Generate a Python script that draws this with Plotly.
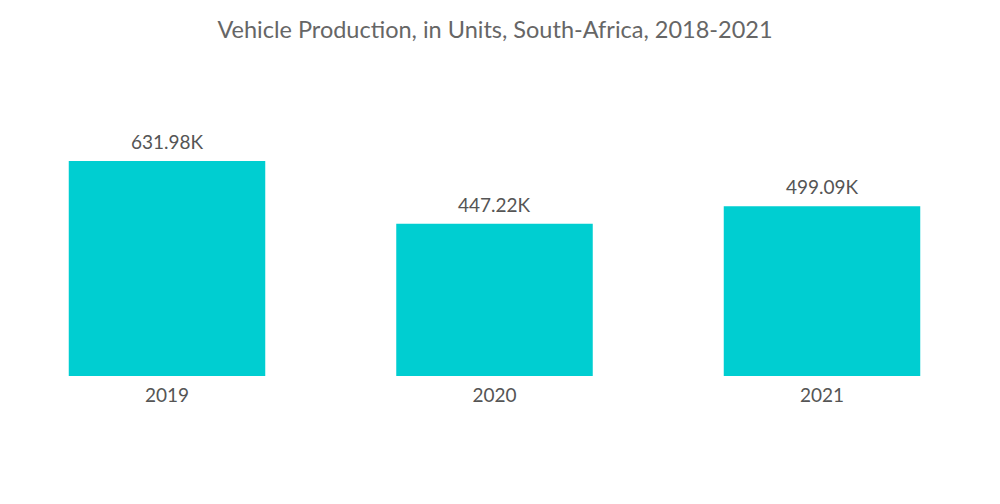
import plotly.graph_objects as go

years = ["2019", "2020", "2021"]
production_k = [631.98, 447.22, 499.09]
labels = ["631.98K", "447.22K", "499.09K"]

fig = go.Figure(go.Bar(
    x=years, y=production_k,
    marker=dict(color="#00CED1", line=dict(width=0)),
    cliponaxis=False, width=0.6,
))
for i, (v, lab) in enumerate(zip(production_k, labels)):
    fig.add_annotation(x=i, y=v, xref="x", yref="y", text=lab, showarrow=False,
                       yanchor="bottom", yshift=6,
                       font=dict(family="Lato", size=19, color="#555555"))
fig.update_layout(
    width=1000, height=504,
    paper_bgcolor="white", plot_bgcolor="white",
    title=dict(text="Vehicle Production, in Units, South-Africa, 2018-2021",
               x=0.487, xanchor="center", y=0.956, yanchor="middle",
               font=dict(family="Lato", size=23.5, color="#666666")),
    margin=dict(l=0, r=8, t=72, b=136),
    xaxis=dict(type="category", showline=False, showgrid=False, ticks="",
               range=[-0.4855, 2.5435], ticklabelstandoff=6,
               tickfont=dict(family="Lato", size=19, color="#555555")),
    yaxis=dict(visible=False, range=[0, 870]),
    showlegend=False,
)
fig.write_html("out.html")
